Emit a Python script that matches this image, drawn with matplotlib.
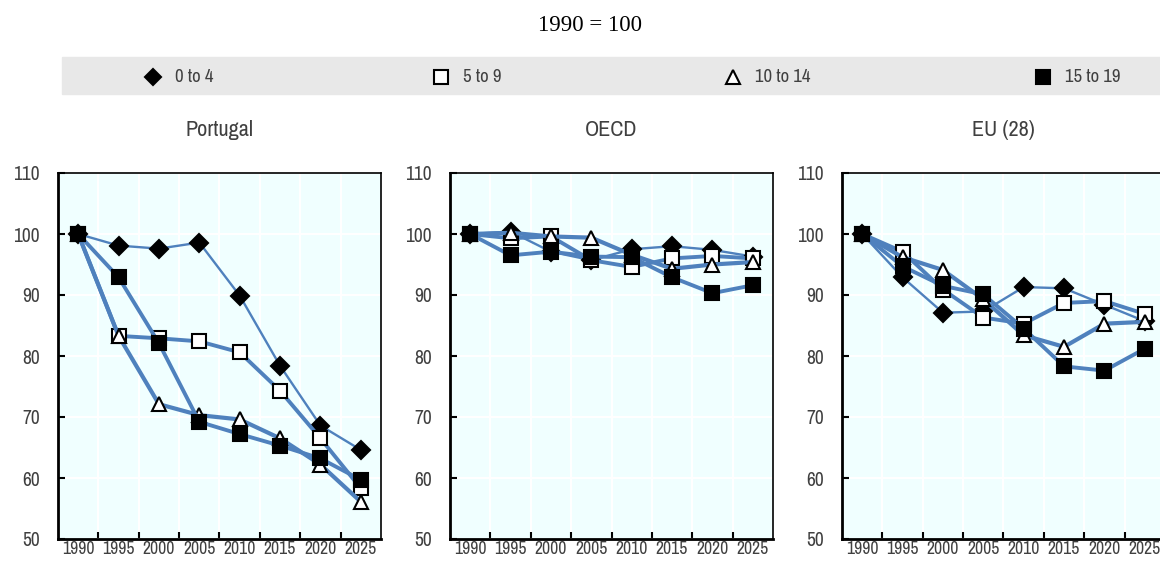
import matplotlib
matplotlib.use("Agg")
import matplotlib.pyplot as plt
from matplotlib import font_manager
from matplotlib.lines import Line2D

# ==== DATA ====
years = ["1990", "1995", "2000", "2005", "2010", "2015", "2020", "2025"]
groups = ["0 to 4", "5 to 9", "10 to 14", "15 to 19"]
panels = ["Portugal", "OECD", "EU (28)"]

portugal_0_4 = [100, 98.1, 97.6, 98.6, 89.9, 78.4, 68.6, 64.6]
portugal_5_9 = [100, 83.3, 82.9, 82.4, 80.6, 74.3, 66.5, 58.3]
portugal_10_14 = [100, 83.3, 72.1, 70.3, 69.6, 66.5, 62.2, 56.1]
portugal_15_19 = [100, 92.9, 82.1, 69.2, 67.2, 65.3, 63.2, 59.7]

oecd_0_4 = [100, 100.4, 97.1, 95.7, 97.5, 98.0, 97.4, 96.3]
oecd_5_9 = [100, 99.3, 99.6, 95.7, 94.6, 96.0, 96.4, 96.0]
oecd_10_14 = [100, 100.2, 99.6, 99.4, 96.6, 94.3, 95.0, 95.4]
oecd_15_19 = [100, 96.5, 97.1, 96.3, 96.2, 92.9, 90.3, 91.6]

eu_0_4 = [100, 92.9, 87.1, 87.3, 91.3, 91.1, 88.4, 85.7]
eu_5_9 = [100, 97.1, 90.9, 86.3, 85.3, 88.7, 89.0, 86.9]
eu_10_14 = [100, 96.2, 94.1, 89.3, 83.4, 81.5, 85.3, 85.6]
eu_15_19 = [100, 94.7, 91.5, 90.1, 84.5, 78.3, 77.6, 81.2]

panel_data = [
    [portugal_0_4, portugal_5_9, portugal_10_14, portugal_15_19],
    [oecd_0_4, oecd_5_9, oecd_10_14, oecd_15_19],
    [eu_0_4, eu_5_9, eu_10_14, eu_15_19],
]

# ==== STYLE ====
# prefer a narrow sans if one is installed
font_kw = {"family": "Liberation Sans"}
narrow = [f for f in font_manager.fontManager.ttflist
          if ("Narrow" in f.name or "Condensed" in f.name) and f.style == "normal"]
if narrow:
    font_kw = {"family": narrow[0].name}
else:
    cond = [f for f in font_manager.fontManager.ttflist
            if f.stretch in ("condensed", "semi-condensed") and f.style == "normal"
            and f.weight in (400, "normal", "regular")]
    if cond:
        font_kw = {"family": cond[0].name, "stretch": cond[0].stretch}

LINE_COLOR = "#4F81BD"
BG_COLOR = "#F0FFFF"
TEXT_COLOR = "#404040"

markers = [
    dict(marker="D", markersize=9.5, markerfacecolor="black"),
    dict(marker="s", markersize=10.5, markerfacecolor="white"),
    dict(marker="^", markersize=10.5, markerfacecolor="white"),
    dict(marker="s", markersize=10.5, markerfacecolor="black"),
]
line_widths = [1.7, 2.8, 3.0, 2.8]

fig = plt.figure(figsize=(11.6, 5.61), dpi=100)

# title
fig.text(0.509, 0.955, "1990 = 100", ha="center", va="center",
         fontsize=16.5, family="Liberation Serif", color="black")

# legend band
fig.patches.append(plt.Rectangle((62 / 1160, 1 - 94 / 561), 1 - 62 / 1160, 37 / 561,
                                 transform=fig.transFigure, color="#E8E8E8", zorder=0))
leg_x = [153, 441, 733, 1043]
for i, g in enumerate(groups):
    fx = leg_x[i] / 1160
    fy = 1 - 77 / 561
    fig.lines.append(Line2D([fx], [fy], transform=fig.transFigure, linestyle="none",
                            markeredgecolor="black", markeredgewidth=1.5,
                            **{**markers[i], "markersize": markers[i]["markersize"] - 1}))
    fig.text(fx + 22 / 1160, fy, g, ha="left", va="center", fontsize=13.5,
             color=TEXT_COLOR, **font_kw)

# ==== PANELS ====
lefts = [58, 450, 842]
ax_w = 323
for p, name in enumerate(panels):
    ax = fig.add_axes([lefts[p] / 1160, (561 - 539) / 561, ax_w / 1160, 366 / 561])
    ax.set_facecolor(BG_COLOR)
    xs = [i + 0.5 for i in range(len(years))]
    for s, series in enumerate(panel_data[p]):
        ax.plot(xs, series, color=LINE_COLOR, linewidth=line_widths[s],
                markeredgecolor="black", markeredgewidth=1.5, zorder=3 + s,
                clip_on=False, **markers[s])
    ax.set_xlim(0, len(years))
    ax.set_ylim(50, 110)
    ax.set_xticks(range(1, len(years)))
    ax.set_xticklabels([])
    ax.set_xticks(xs, minor=True)
    ax.set_xticklabels(years, minor=True, fontsize=12.7, color=TEXT_COLOR, **font_kw)
    ax.set_yticks(range(50, 111, 10))
    ax.set_yticklabels([str(v) for v in range(50, 111, 10)], fontsize=14,
                       color=TEXT_COLOR, **font_kw)
    ax.tick_params(axis="x", which="major", direction="in", length=5, width=1.5, color="black")
    ax.tick_params(axis="x", which="minor", length=0, pad=1.5)
    ax.tick_params(axis="y", direction="in", length=5, width=1.5, pad=13)
    ax.grid(True, which="major", color="white", linewidth=1.5, zorder=0)
    ax.set_axisbelow(True)
    for side in ["left", "bottom"]:
        ax.spines[side].set_linewidth(2)
    for side in ["top", "right"]:
        ax.spines[side].set_linewidth(1.2)
    ax.set_title(name, fontsize=16, color=TEXT_COLOR, pad=27, **font_kw)

fig.savefig("out.png", dpi=100)
